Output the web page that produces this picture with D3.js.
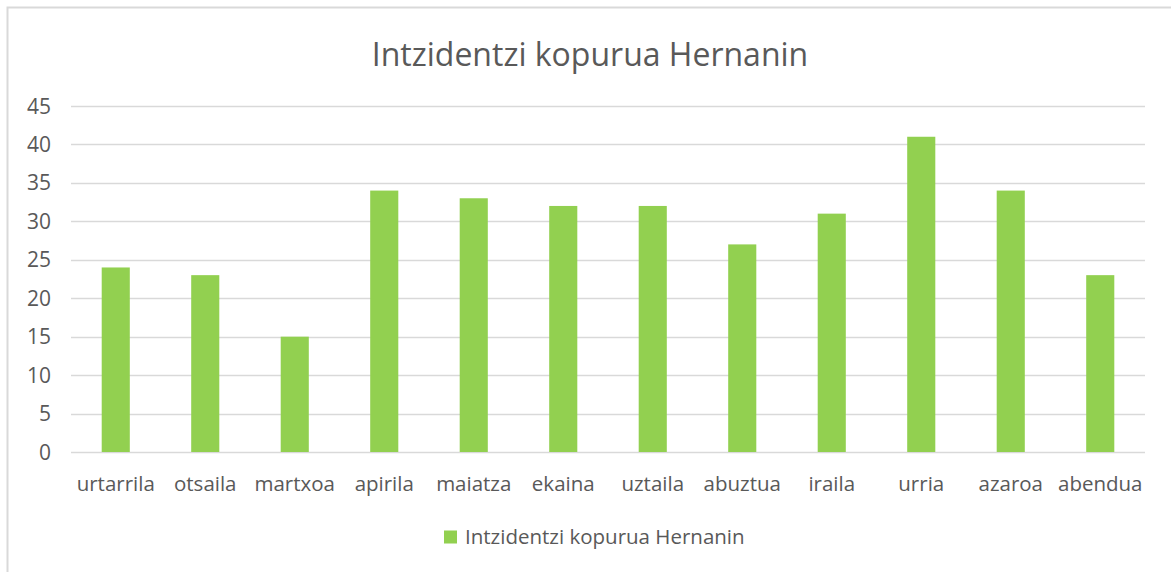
<!DOCTYPE html>
<html>
<head>
<meta charset="utf-8">
<script src="https://cdn.jsdelivr.net/npm/d3@7"></script>
<style>
  body { margin: 0; background: #fff; }
  text { font-family: "Open Sans", sans-serif; }
</style>
</head>
<body>
<div id="chart"></div>
<script>
var width = 1171, height = 572;

var months = ["urtarrila", "otsaila", "martxoa", "apirila", "maiatza", "ekaina",
    "uztaila", "abuztua", "iraila", "urria", "azaroa", "abendua"];
var counts = [24, 23, 15, 34, 33, 32, 32, 27, 31, 41, 34, 23];
var yTicks = [0, 5, 10, 15, 20, 25, 30, 35, 40, 45];
var seriesName = "Intzidentzi kopurua Hernanin";
var chartTitle = "Intzidentzi kopurua Hernanin";

var margin = { top: 106, right: 26, bottom: 120, left: 71 };

var svg = d3.select("#chart")
  .append("svg")
    .attr("width", width)
    .attr("height", height);

// chart frame (right and bottom edges fall outside the picture)
svg.append("rect")
  .attr("x", 7.5).attr("y", 7.5)
  .attr("width", width).attr("height", height)
  .attr("fill", "#fff")
  .attr("stroke", "#d9d9d9")
  .attr("stroke-width", 2);

var x = d3.scaleBand()
  .domain(months)
  .range([margin.left, width - margin.right])
  .paddingInner(0.686)
  .paddingOuter(0.343);

var y = d3.scaleLinear()
  .domain([0, 45])
  .range([height - margin.bottom, margin.top]);

// gridlines
svg.append("g")
  .selectAll("line")
  .data(yTicks)
  .enter()
  .append("line")
    .attr("x1", margin.left)
    .attr("x2", width - margin.right)
    .attr("y1", function(d) { return Math.round(y(d)) + 0.5; })
    .attr("y2", function(d) { return Math.round(y(d)) + 0.5; })
    .attr("stroke", "#d9d9d9")
    .attr("stroke-width", 1.5);

// y labels
svg.append("g")
  .selectAll("text")
  .data(yTicks)
  .enter()
  .append("text")
    .attr("x", margin.left - 20)
    .attr("y", function(d) { return y(d); })
    .attr("dy", "0.36em")
    .attr("text-anchor", "end")
    .attr("fill", "#595959")
    .style("font-size", "21px")
    .text(function(d) { return d; });

// bars
svg.append("g")
  .selectAll("rect")
  .data(counts)
  .enter()
  .append("rect")
    .attr("x", function(d, i) { return x(months[i]); })
    .attr("y", function(d) { return y(d); })
    .attr("width", x.bandwidth())
    .attr("height", function(d) { return y(0) - y(d); })
    .attr("fill", "#92d050");

// x labels
svg.append("g")
  .selectAll("text")
  .data(months)
  .enter()
  .append("text")
    .attr("x", function(d) { return x(d) + x.bandwidth() / 2; })
    .attr("y", 484)
    .attr("dy", "0.36em")
    .attr("text-anchor", "middle")
    .attr("fill", "#595959")
    .style("font-size", "20.5px")
    .text(function(d) { return d; });

// title
svg.append("text")
  .attr("x", 590)
  .attr("y", 54)
  .attr("dy", "0.36em")
  .attr("text-anchor", "middle")
  .attr("fill", "#595959")
  .style("font-size", "32px")
  .text(chartTitle);

// legend
var legend = svg.append("g").attr("transform", "translate(444, 537)");
legend.append("rect")
  .attr("x", 0).attr("y", -6.5)
  .attr("width", 13).attr("height", 13)
  .attr("fill", "#92d050");
legend.append("text")
  .attr("x", 21)
  .attr("y", 0)
  .attr("dy", "0.36em")
  .attr("fill", "#595959")
  .style("font-size", "20.5px")
  .text(seriesName);
</script>
</body>
</html>
